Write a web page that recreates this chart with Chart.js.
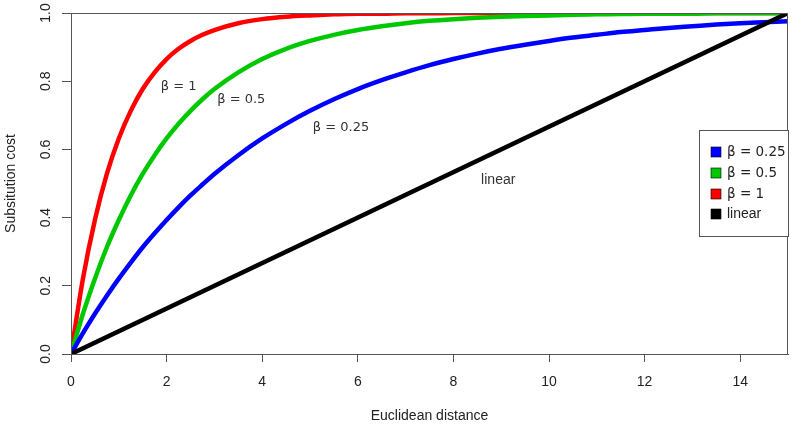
<!DOCTYPE html>
<html>
<head>
<meta charset="utf-8">
<script src="https://cdn.jsdelivr.net/npm/chart.js@4/dist/chart.umd.min.js"></script>
<style>
html,body{margin:0;padding:0;background:#fff;}
#wrap{width:799px;height:428px;}
</style>
</head>
<body>
<div id="wrap"><canvas id="c" width="799" height="428"></canvas></div>
<script>
// Data
const distances   = [0,0.25,0.5,0.75,1,1.25,1.5,1.75,2,2.25,2.5,2.75,3,3.5,4,4.5,5,5.5,6,6.5,7,7.5,8,8.5,9,9.5,10,10.5,11,11.5,12,12.5,13,13.5,14,14.5,15];
const costBeta1   = [0,0.221,0.393,0.528,0.632,0.713,0.777,0.826,0.865,0.895,0.918,0.936,0.950,0.970,0.982,0.989,0.993,0.996,0.998,0.998,0.999,0.999,1,1,1,1,1,1,1,1,1,1,1,1,1,1,1];
const costBeta05  = [0,0.118,0.221,0.313,0.393,0.465,0.528,0.583,0.632,0.675,0.713,0.747,0.777,0.826,0.865,0.895,0.918,0.936,0.950,0.961,0.970,0.977,0.982,0.986,0.989,0.991,0.993,0.995,0.996,0.997,0.998,0.998,0.998,0.999,0.999,0.999,0.999];
const costBeta025 = [0,0.061,0.118,0.171,0.221,0.268,0.313,0.354,0.393,0.430,0.465,0.497,0.528,0.583,0.632,0.675,0.713,0.747,0.777,0.803,0.826,0.847,0.865,0.881,0.895,0.907,0.918,0.928,0.936,0.944,0.950,0.956,0.961,0.966,0.970,0.973,0.976];
const linearX = [0,15];
const linearY = [0,1];
const seriesLabels = ['β = 0.25','β = 0.5','β = 1','linear'];
const yTickLabels = ['0.0','0.2','0.4','0.6','0.8','1.0'];
const annotations = [
  {text:'β = 1',    x:1.88, y:0.785, font:'13px "DejaVu Sans"'},
  {text:'β = 0.5',  x:3.06, y:0.745, font:'13px "DejaVu Sans"'},
  {text:'β = 0.25', x:5.06, y:0.665, font:'13px "DejaVu Sans"'},
  {text:'linear',   x:8.58, y:0.51,  font:'14px "Liberation Sans", Arial'}
];

const pts = (xs, ys) => xs.map((x,i)=>({x:x, y:ys[i]}));
const colors = ['#0000ff','#00c800','#ff0000','#000000'];

const decor = {
  id:'decor',
  afterDraw(chart){
    const ctx = chart.ctx, a = chart.chartArea;
    const xs = chart.scales.x, ys = chart.scales.y;
    ctx.save();
    ctx.strokeStyle = '#555'; ctx.lineWidth = 1;
    ctx.strokeRect(a.left+0.5, a.top+0.5, a.right-a.left-1, a.bottom-a.top);
    ctx.fillStyle = '#222';
    ctx.font = '14px "Liberation Sans", Arial';
    ctx.textAlign = 'center'; ctx.textBaseline = 'middle';
    yTickLabels.forEach(t=>{
      const py = ys.getPixelForValue(parseFloat(t));
      ctx.save(); ctx.translate(46, py); ctx.rotate(-Math.PI/2);
      ctx.fillText(t, 0, 0); ctx.restore();
    });
    ctx.font = '14px "Liberation Sans", Arial';
    ctx.fillText('Euclidean distance', (a.left+a.right)/2, 416);
    ctx.save(); ctx.translate(11, (a.top+a.bottom)/2); ctx.rotate(-Math.PI/2);
    ctx.fillText('Subsitution cost', 0, 0); ctx.restore();
    ctx.textAlign = 'left'; ctx.fillStyle = '#333';
    annotations.forEach(an=>{
      ctx.font = an.font;
      ctx.fillText(an.text, xs.getPixelForValue(an.x), ys.getPixelForValue(an.y));
    });
    const lx = 699, ly = 130, lw = a.right - 699, lh = 106;
    ctx.fillStyle = '#fff';
    ctx.fillRect(lx, ly, lw, lh);
    ctx.strokeStyle = '#555'; ctx.lineWidth = 1;
    ctx.strokeRect(lx+0.5, ly+0.5, lw, lh);
    const rows = [152,173,194,214];
    seriesLabels.forEach((lab,i)=>{
      ctx.fillStyle = colors[i];
      ctx.fillRect(711, rows[i]-5, 10, 10);
      ctx.strokeStyle = '#000'; ctx.lineWidth = 0.6;
      ctx.strokeRect(711, rows[i]-5, 10, 10);
      ctx.fillStyle = '#222';
      ctx.font = lab === 'linear' ? '14px "Liberation Sans", Arial' : '13.5px "DejaVu Sans"';
      ctx.fillText(lab, 727, rows[i]);
    });
    ctx.restore();
  }
};

new Chart(document.getElementById('c'), {
  type:'line',
  data:{
    datasets:[
      {label:seriesLabels[3], data:pts(linearX, linearY), borderColor:colors[3], borderWidth:4.5, order:0},
      {label:seriesLabels[0], data:pts(distances, costBeta025), borderColor:colors[0], borderWidth:4.5, order:1, cubicInterpolationMode:'monotone'},
      {label:seriesLabels[1], data:pts(distances, costBeta05), borderColor:colors[1], borderWidth:4.5, order:2, cubicInterpolationMode:'monotone'},
      {label:seriesLabels[2], data:pts(distances, costBeta1), borderColor:colors[2], borderWidth:4.5, order:3, cubicInterpolationMode:'monotone'}
    ]
  },
  options:{
    responsive:false, animation:false,
    devicePixelRatio:1,
    layout:{padding:{top:13, right:11, left:0, bottom:0}},
    elements:{point:{radius:0}, line:{fill:false, borderCapStyle:'butt'}},
    plugins:{legend:{display:false}, tooltip:{enabled:false}},
    scales:{
      x:{
        type:'linear', min:0, max:15,
        afterFit(s){ s.height = 74; },
        ticks:{stepSize:2, includeBounds:false, color:'#222', padding:12,
               font:{family:'"Liberation Sans", Arial', size:14}, maxRotation:0},
        grid:{display:true, drawOnChartArea:false, drawTicks:true, tickLength:8, color:'#555'},
        border:{display:true, color:'#555'}
      },
      y:{
        type:'linear', min:0, max:1,
        afterFit(s){ s.width = 71; },
        ticks:{stepSize:0.2, display:false},
        grid:{display:true, drawOnChartArea:false, drawTicks:true, tickLength:9, color:'#555'},
        border:{display:true, color:'#555'}
      }
    }
  },
  plugins:[decor]
});
</script>
</body>
</html>
